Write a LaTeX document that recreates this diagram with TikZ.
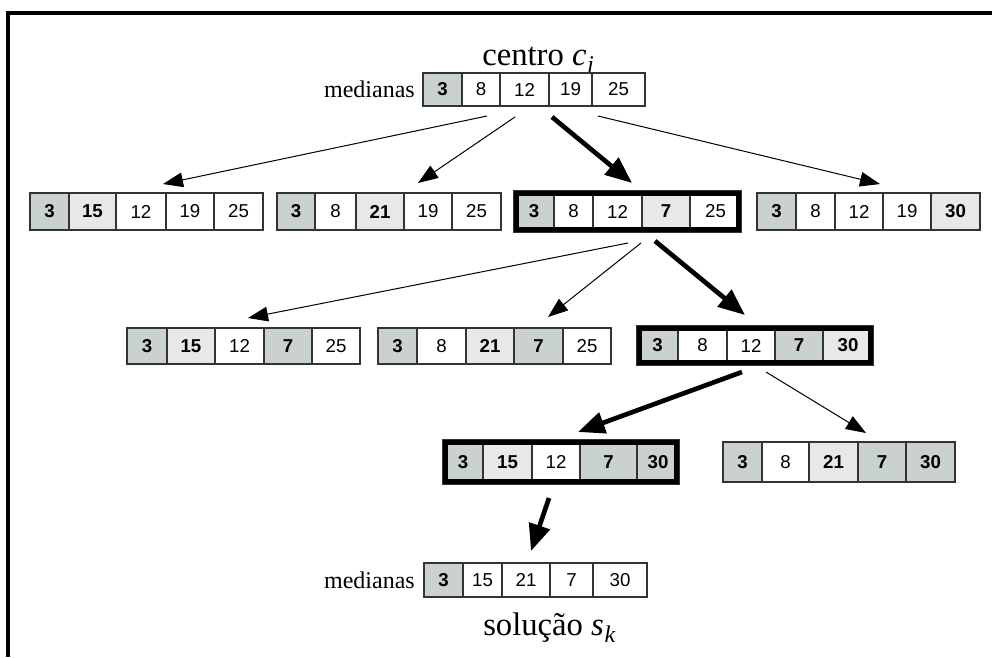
\documentclass[tikz,border=0pt]{standalone}
\usepackage{fontspec}
\setmainfont{Liberation Serif}
\newfontfamily\numfont{Liberation Sans}
\usetikzlibrary{arrows.meta}
\definecolor{cellD}{RGB}{202,210,206}
\definecolor{cellL}{RGB}{232,232,232}

% one cell of a median vector: name, x0, x1, ytop, ybottom, style, value
\newcommand\mcell[7]{%
  \node[cellnode,#6,minimum width={(#3-#2)*0.75pt},minimum height={(#5-#4)*0.75pt}]
    (#1) at ({(#2+#3)/2},{(#4+#5)/2}) {#7};}
% italic index below the baseline
\newcommand\idx[1]{\kern0.5pt\raisebox{-0.5ex}{\fontsize{18}{20}\selectfont\textit{#1}}}

\begin{document}
\begin{tikzpicture}[x=0.75pt,y=-0.75pt,
  cellnode/.style={draw=black!80, line width=0.8pt, inner sep=0pt, outer sep=0pt},
  dk/.style={fill=cellD, font=\numfont\bfseries\fontsize{14}{16}\selectfont},
  lt/.style={fill=cellL, font=\numfont\bfseries\fontsize{14}{16}\selectfont},
  wh/.style={fill=white, font=\numfont\fontsize{14}{16}\selectfont},
  thickframe/.style={draw=black, line width=3.75pt},
  label/.style={inner sep=0pt, font=\fontsize{18}{20}\selectfont},
  title/.style={inner sep=0pt, font=\fontsize{24.5}{28}\selectfont},
  thinarrow/.style={-{Triangle[length=15pt,width=11pt]}, line width=0.75pt},
  thickarrow/.style={-{Triangle[length=20pt,width=16pt]}, line width=3.5pt}]

\useasboundingbox (0,0) rectangle (992,657);
% outer frame (top and left sides)
\draw[line width=2.3pt] (8,657) -- (8,13) -- (992,13);

% centre vector
\node[title, anchor=base west] (titleC) at (482,65) {centro \textit{c}\idx{j}};
\node[label, anchor=base east] (medC) at (415,97) {medianas};
\mcell{r0a}{423}{462}{73}{106}{dk}{3}
\mcell{r0b}{462}{500}{73}{106}{wh}{8}
\mcell{r0c}{500}{549}{73}{106}{wh}{12}
\mcell{r0d}{549}{592}{73}{106}{wh}{19}
\mcell{r0e}{592}{645}{73}{106}{wh}{25}

% first level of neighbours
\mcell{ra1}{30}{69}{193}{230}{dk}{3}
\mcell{ra2}{69}{116}{193}{230}{lt}{15}
\mcell{ra3}{116}{166}{193}{230}{wh}{12}
\mcell{ra4}{166}{214}{193}{230}{wh}{19}
\mcell{ra5}{214}{263}{193}{230}{wh}{25}

\mcell{rb1}{277}{315}{193}{230}{dk}{3}
\mcell{rb2}{315}{356}{193}{230}{wh}{8}
\mcell{rb3}{356}{404}{193}{230}{lt}{21}
\mcell{rb4}{404}{452}{193}{230}{wh}{19}
\mcell{rb5}{452}{501}{193}{230}{wh}{25}

\mcell{rc1}{514}{554}{191}{232}{dk}{3}
\mcell{rc2}{554}{593}{191}{232}{wh}{8}
\mcell{rc3}{593}{642}{191}{232}{wh}{12}
\mcell{rc4}{642}{690}{191}{232}{lt}{7}
\mcell{rc5}{690}{741}{191}{232}{wh}{25}
\draw[thickframe] (516.5,193.5) rectangle (738.5,229.5);

\mcell{rd1}{757}{796}{193}{230}{dk}{3}
\mcell{rd2}{796}{835}{193}{230}{wh}{8}
\mcell{rd3}{835}{883}{193}{230}{wh}{12}
\mcell{rd4}{883}{931}{193}{230}{wh}{19}
\mcell{rd5}{931}{980}{193}{230}{lt}{30}

% second level
\mcell{re1}{127}{167}{328}{364}{dk}{3}
\mcell{re2}{167}{215}{328}{364}{lt}{15}
\mcell{re3}{215}{264}{328}{364}{wh}{12}
\mcell{re4}{264}{312}{328}{364}{dk}{7}
\mcell{re5}{312}{360}{328}{364}{wh}{25}

\mcell{rf1}{378}{417}{328}{364}{dk}{3}
\mcell{rf2}{417}{466}{328}{364}{wh}{8}
\mcell{rf3}{466}{514}{328}{364}{lt}{21}
\mcell{rf4}{514}{563}{328}{364}{dk}{7}
\mcell{rf5}{563}{611}{328}{364}{wh}{25}

\mcell{rg1}{637}{678}{326}{365}{dk}{3}
\mcell{rg2}{678}{727}{326}{365}{wh}{8}
\mcell{rg3}{727}{775}{326}{365}{wh}{12}
\mcell{rg4}{775}{823}{326}{365}{dk}{7}
\mcell{rg5}{823}{873}{326}{365}{lt}{30}
\draw[thickframe] (639.5,328.5) rectangle (870.5,362.5);

% third level
\mcell{rh1}{443}{483}{440}{484}{dk}{3}
\mcell{rh2}{483}{532}{440}{484}{lt}{15}
\mcell{rh3}{532}{580}{440}{484}{wh}{12}
\mcell{rh4}{580}{637}{440}{484}{dk}{7}
\mcell{rh5}{637}{679}{440}{484}{dk}{30}
\draw[thickframe] (445.5,442.5) rectangle (676.5,481.5);

\mcell{ri1}{723}{762}{442}{482}{dk}{3}
\mcell{ri2}{762}{809}{442}{482}{wh}{8}
\mcell{ri3}{809}{858}{442}{482}{lt}{21}
\mcell{ri4}{858}{906}{442}{482}{dk}{7}
\mcell{ri5}{906}{955}{442}{482}{dk}{30}

% resulting solution
\node[label, anchor=base east] (medS) at (415,588) {medianas};
\mcell{rs1}{424}{463}{563}{597}{dk}{3}
\mcell{rs2}{463}{502}{563}{597}{wh}{15}
\mcell{rs3}{502}{550}{563}{597}{wh}{21}
\mcell{rs4}{550}{593}{563}{597}{wh}{7}
\mcell{rs5}{593}{647}{563}{597}{wh}{30}
\node[title, anchor=base west] (titleS) at (483,635) {solução \textit{s}\idx{k}};

% arrow end points
\coordinate (s1) at (487,116);  \coordinate (t1) at (163,184);
\coordinate (s2) at (515,117);  \coordinate (t2) at (418,183);
\coordinate (s3) at (552,117);  \coordinate (t3) at (632,183);
\coordinate (s4) at (598,116);  \coordinate (t4) at (880,184);
\coordinate (s5) at (628,243);  \coordinate (t5) at (248,318);
\coordinate (s6) at (641,243);  \coordinate (t6) at (548,317);
\coordinate (s7) at (655,241);  \coordinate (t7) at (745,315);
\coordinate (s8) at (742,372);  \coordinate (t8) at (578,432);
\coordinate (s9) at (766,372);  \coordinate (t9) at (866,433);
\coordinate (s10) at (549,498); \coordinate (t10) at (531,551);

\draw[thinarrow] (s1) -- (t1);
\draw[thinarrow] (s2) -- (t2);
\draw[thickarrow] (s3) -- (t3);
\draw[thinarrow] (s4) -- (t4);
\draw[thinarrow] (s5) -- (t5);
\draw[thinarrow] (s6) -- (t6);
\draw[thickarrow] (s7) -- (t7);
\draw[thickarrow] (s8) -- (t8);
\draw[thinarrow] (s9) -- (t9);
\draw[thickarrow] (s10) -- (t10);
\end{tikzpicture}
\end{document}
